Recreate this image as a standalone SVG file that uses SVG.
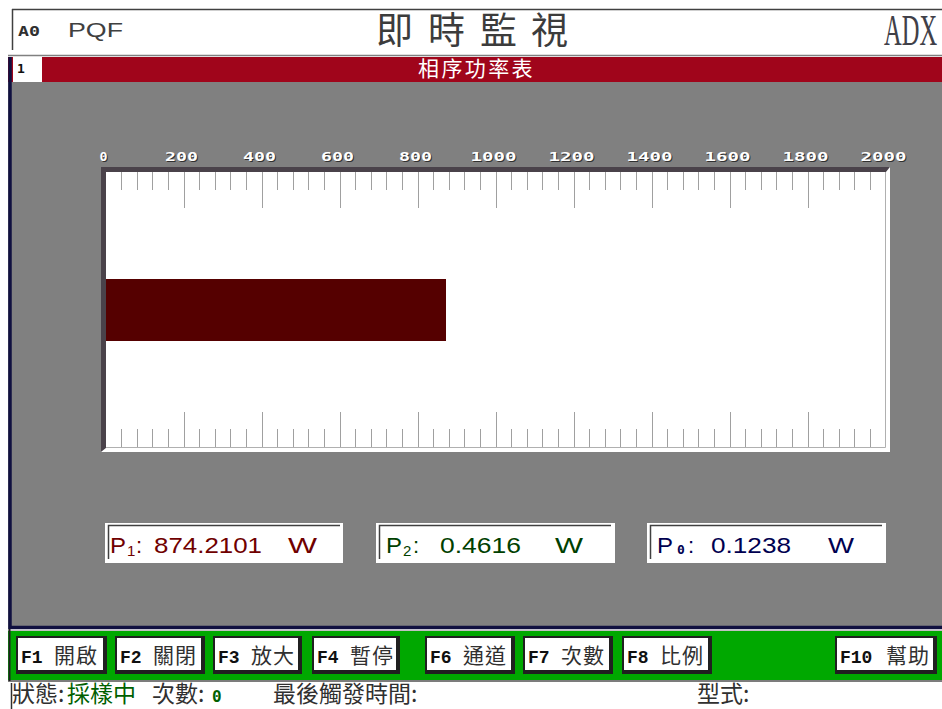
<svg xmlns="http://www.w3.org/2000/svg" width="942" height="709" viewBox="0 0 942 709">
<style>
.cjk{font-family:"Noto Sans CJK TC","Noto Sans CJK SC",sans-serif}
.mono{font-family:"DejaVu Sans Mono","Liberation Mono",monospace;font-weight:bold}
.fk{font-family:"Liberation Mono","Courier New",monospace;font-weight:bold;font-size:18px;fill:#101010}
.bt{font-family:"Noto Sans CJK TC",sans-serif;font-size:21px;fill:#303030;letter-spacing:1px}
.lbl{font-family:"DejaVu Sans Mono",monospace;font-weight:bold;font-size:13px}
.val{font-family:"Liberation Sans",Arial,sans-serif;font-size:22px}
.tick{stroke:#a0a0a0;stroke-width:1;fill:none}
.st{font-family:"Noto Sans CJK TC",sans-serif;font-size:23px;fill:#303030}
</style>
<rect width="942" height="709" fill="#ffffff"/>
<!-- header -->
<g id="header">
<path d="M12 9.5H942M12.5 9V50" stroke="#404040" stroke-width="1.5" fill="none"/>
<line x1="8" y1="55.5" x2="942" y2="55.5" stroke="#808080" stroke-width="1.5"/>
<text x="18" y="36" class="mono" font-size="14" fill="#303030" textLength="22" lengthAdjust="spacingAndGlyphs">A0</text>
<text x="68" y="36.5" font-family="Liberation Sans, Arial, sans-serif" font-size="21" fill="#404040" textLength="55" lengthAdjust="spacingAndGlyphs">PQF</text>
<g class="cjk" font-size="37" fill="#3c3c3c">
<text x="376" y="44">即</text>
<text x="428" y="44">時</text>
<text x="480" y="44">監</text>
<text x="531" y="44">視</text>
</g>
<text transform="translate(884,45) scale(0.98,1.8)" x="0" y="0" font-family="Liberation Serif, Times New Roman, serif" font-size="25" fill="#404048">ADX</text>
</g>
<!-- title bar -->
<g id="titlebar">
<rect x="8" y="57" width="934" height="25" fill="#a0051b"/>
<rect x="13" y="57" width="29" height="25" fill="#ffffff"/>
<text x="17" y="73" class="mono" font-size="13" fill="#101010">1</text>
<text x="418" y="76" class="cjk" font-size="21" fill="#ffffff" letter-spacing="2.4">相序功率表</text>
</g>
<!-- main panel -->
<g id="panel">
<rect x="8" y="82" width="934" height="547" fill="#808080"/>
<path d="M10 57V627.5H942" stroke="#101040" stroke-width="3.5" fill="none"/>
</g>
<!-- scale labels -->
<g id="scale-labels">
<g fill="#303030" transform="translate(1,1)">
<text class="lbl" x="99.5" y="161" textLength="8" lengthAdjust="spacingAndGlyphs">0</text>
<text class="lbl" x="165" y="161" textLength="33" lengthAdjust="spacingAndGlyphs">200</text>
<text class="lbl" x="243" y="161" textLength="33" lengthAdjust="spacingAndGlyphs">400</text>
<text class="lbl" x="321" y="161" textLength="33" lengthAdjust="spacingAndGlyphs">600</text>
<text class="lbl" x="399" y="161" textLength="33" lengthAdjust="spacingAndGlyphs">800</text>
<text class="lbl" x="470.5" y="161" textLength="46" lengthAdjust="spacingAndGlyphs">1000</text>
<text class="lbl" x="548.5" y="161" textLength="46" lengthAdjust="spacingAndGlyphs">1200</text>
<text class="lbl" x="626.5" y="161" textLength="46" lengthAdjust="spacingAndGlyphs">1400</text>
<text class="lbl" x="704.5" y="161" textLength="46" lengthAdjust="spacingAndGlyphs">1600</text>
<text class="lbl" x="782.5" y="161" textLength="46" lengthAdjust="spacingAndGlyphs">1800</text>
<text class="lbl" x="860.5" y="161" textLength="46" lengthAdjust="spacingAndGlyphs">2000</text>
</g>
<g fill="#ffffff">
<text class="lbl" x="99.5" y="161" textLength="8" lengthAdjust="spacingAndGlyphs">0</text>
<text class="lbl" x="165" y="161" textLength="33" lengthAdjust="spacingAndGlyphs">200</text>
<text class="lbl" x="243" y="161" textLength="33" lengthAdjust="spacingAndGlyphs">400</text>
<text class="lbl" x="321" y="161" textLength="33" lengthAdjust="spacingAndGlyphs">600</text>
<text class="lbl" x="399" y="161" textLength="33" lengthAdjust="spacingAndGlyphs">800</text>
<text class="lbl" x="470.5" y="161" textLength="46" lengthAdjust="spacingAndGlyphs">1000</text>
<text class="lbl" x="548.5" y="161" textLength="46" lengthAdjust="spacingAndGlyphs">1200</text>
<text class="lbl" x="626.5" y="161" textLength="46" lengthAdjust="spacingAndGlyphs">1400</text>
<text class="lbl" x="704.5" y="161" textLength="46" lengthAdjust="spacingAndGlyphs">1600</text>
<text class="lbl" x="782.5" y="161" textLength="46" lengthAdjust="spacingAndGlyphs">1800</text>
<text class="lbl" x="860.5" y="161" textLength="46" lengthAdjust="spacingAndGlyphs">2000</text>
</g>
</g>
<!-- chart -->
<g id="chart">
<rect x="106" y="172" width="780" height="276" fill="#ffffff"/>
<path d="M101 167H890L886 172H106V448L101 452Z" fill="#4a424a"/>
<path d="M890 167V452H101L106 448H886V172Z" fill="#ffffff"/>
<path d="M106 447.5H885.5V172" stroke="#b0b0b0" stroke-width="1" fill="none"/>
<path class="tick" d="M121.5 172v18M137.5 172v18M152.5 172v18M168.5 172v18M199.5 172v18M215.5 172v18M230.5 172v18M246.5 172v18M277.5 172v18M293.5 172v18M308.5 172v18M324.5 172v18M355.5 172v18M371.5 172v18M386.5 172v18M402.5 172v18M433.5 172v18M449.5 172v18M464.5 172v18M480.5 172v18M511.5 172v18M527.5 172v18M542.5 172v18M558.5 172v18M589.5 172v18M605.5 172v18M620.5 172v18M636.5 172v18M667.5 172v18M683.5 172v18M698.5 172v18M714.5 172v18M745.5 172v18M761.5 172v18M776.5 172v18M792.5 172v18M823.5 172v18M839.5 172v18M854.5 172v18M870.5 172v18"/>
<path class="tick" d="M121.5 447v-18M137.5 447v-18M152.5 447v-18M168.5 447v-18M199.5 447v-18M215.5 447v-18M230.5 447v-18M246.5 447v-18M277.5 447v-18M293.5 447v-18M308.5 447v-18M324.5 447v-18M355.5 447v-18M371.5 447v-18M386.5 447v-18M402.5 447v-18M433.5 447v-18M449.5 447v-18M464.5 447v-18M480.5 447v-18M511.5 447v-18M527.5 447v-18M542.5 447v-18M558.5 447v-18M589.5 447v-18M605.5 447v-18M620.5 447v-18M636.5 447v-18M667.5 447v-18M683.5 447v-18M698.5 447v-18M714.5 447v-18M745.5 447v-18M761.5 447v-18M776.5 447v-18M792.5 447v-18M823.5 447v-18M839.5 447v-18M854.5 447v-18M870.5 447v-18"/>
<path class="tick" d="M184.5 172v36M262.5 172v36M340.5 172v36M418.5 172v36M496.5 172v36M574.5 172v36M652.5 172v36M730.5 172v36M808.5 172v36M184.5 447v-35M262.5 447v-35M340.5 447v-35M418.5 447v-35M496.5 447v-35M574.5 447v-35M652.5 447v-35M730.5 447v-35M808.5 447v-35"/>
<rect id="bar" x="106" y="279" width="340" height="62" fill="#550000"/>
</g>
<!-- value boxes -->
<g id="box-p1">
<rect x="105" y="523" width="238" height="40" fill="#ffffff"/>
<path d="M108.5 559V525.5H340" stroke="#404040" stroke-width="1.5" fill="none"/>
<g class="val" fill="#700000">
<text x="110" y="553" textLength="16" lengthAdjust="spacingAndGlyphs">P</text>
<text x="127" y="556" font-size="15">1</text>
<text x="136" y="553">:</text>
<text x="154" y="553" textLength="108" lengthAdjust="spacingAndGlyphs">874.2101</text>
<text x="288" y="553" textLength="29" lengthAdjust="spacingAndGlyphs">W</text>
</g>
</g>
<g id="box-p2">
<rect x="376" y="523" width="239" height="40" fill="#ffffff"/>
<path d="M379.5 559V525.5H611" stroke="#404040" stroke-width="1.5" fill="none"/>
<g class="val" fill="#004000">
<text x="386" y="553" textLength="16" lengthAdjust="spacingAndGlyphs">P</text>
<text x="403" y="556" font-size="15">2</text>
<text x="413" y="553">:</text>
<text x="440" y="553" textLength="81" lengthAdjust="spacingAndGlyphs">0.4616</text>
<text x="555" y="553" textLength="28" lengthAdjust="spacingAndGlyphs">W</text>
</g>
</g>
<g id="box-p0">
<rect x="647" y="523" width="239" height="40" fill="#ffffff"/>
<path d="M650.5 559V525.5H882" stroke="#404040" stroke-width="1.5" fill="none"/>
<g class="val" fill="#000050">
<text x="657" y="553" textLength="16" lengthAdjust="spacingAndGlyphs">P</text>
<text x="677" y="554" class="mono" font-size="13">0</text>
<text x="688" y="553">:</text>
<text x="711" y="553" textLength="80" lengthAdjust="spacingAndGlyphs">0.1238</text>
<text x="828" y="553" textLength="26" lengthAdjust="spacingAndGlyphs">W</text>
</g>
</g>
<!-- function key bar -->
<g id="fkeybar">
<rect x="8" y="630" width="934" height="50" fill="#00a800"/>
<line x1="8" y1="630.5" x2="942" y2="630.5" stroke="#c0c0c0" stroke-width="1"/>
<line x1="8" y1="681" x2="942" y2="681" stroke="#505050" stroke-width="1.5"/>
<line x1="9.5" y1="629" x2="9.5" y2="681" stroke="#202020" stroke-width="2"/>
</g>
<g id="btn-f1">
<rect x="16" y="636" width="91" height="38" fill="#202020"/>
<rect x="18" y="638" width="85" height="32" fill="#ffffff"/>
<text x="21" y="663" class="fk">F1</text>
<text x="54" y="663" class="bt">開啟</text>
</g>
<g id="btn-f2">
<rect x="115" y="636" width="90" height="38" fill="#202020"/>
<rect x="117" y="638" width="84" height="32" fill="#ffffff"/>
<text x="120" y="663" class="fk">F2</text>
<text x="153" y="663" class="bt">關閉</text>
</g>
<g id="btn-f3">
<rect x="213" y="636" width="89" height="38" fill="#202020"/>
<rect x="215" y="638" width="83" height="32" fill="#ffffff"/>
<text x="218" y="663" class="fk">F3</text>
<text x="251" y="663" class="bt">放大</text>
</g>
<g id="btn-f4">
<rect x="312" y="636" width="88" height="38" fill="#202020"/>
<rect x="314" y="638" width="82" height="32" fill="#ffffff"/>
<text x="317" y="663" class="fk">F4</text>
<text x="350" y="663" class="bt">暫停</text>
</g>
<g id="btn-f6">
<rect x="425" y="636" width="90" height="38" fill="#202020"/>
<rect x="427" y="638" width="84" height="32" fill="#ffffff"/>
<text x="430" y="663" class="fk">F6</text>
<text x="463" y="663" class="bt">通道</text>
</g>
<g id="btn-f7">
<rect x="523" y="636" width="90" height="38" fill="#202020"/>
<rect x="525" y="638" width="84" height="32" fill="#ffffff"/>
<text x="528" y="663" class="fk">F7</text>
<text x="561" y="663" class="bt">次數</text>
</g>
<g id="btn-f8">
<rect x="622" y="636" width="90" height="38" fill="#202020"/>
<rect x="624" y="638" width="84" height="32" fill="#ffffff"/>
<text x="627" y="663" class="fk">F8</text>
<text x="660" y="663" class="bt">比例</text>
</g>
<g id="btn-f10">
<rect x="835" y="636" width="102" height="38" fill="#202020"/>
<rect x="837" y="638" width="96" height="32" fill="#ffffff"/>
<text x="840" y="663" class="fk">F10</text>
<text x="886" y="663" class="bt">幫助</text>
</g>
<!-- status bar -->
<g id="statusbar">
<line x1="11.5" y1="683" x2="11.5" y2="709" stroke="#303030" stroke-width="1.5"/>
<text x="12" y="702" class="st">狀態:</text>
<text x="67" y="702" class="st" style="fill:#006000">採樣中</text>
<text x="152" y="702" class="st">次數:</text>
<text x="212" y="702" class="mono" font-size="16" fill="#006000">0</text>
<text x="273" y="702" class="st">最後觸發時間:</text>
<text x="697" y="702" class="st">型式:</text>
</g>
</svg>
